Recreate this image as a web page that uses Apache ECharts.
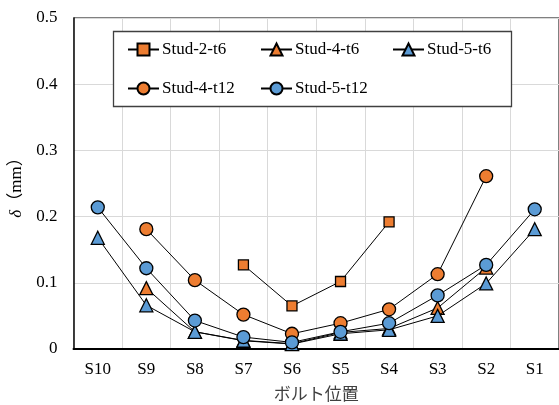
<!DOCTYPE html>
<html><head><meta charset="utf-8">
<script src="https://cdn.jsdelivr.net/npm/echarts@6/dist/echarts.min.js"></script>
<style>html,body{margin:0;padding:0;background:#fff}#c{width:559px;height:405px}</style>
</head><body><div id="c"></div>
<script>
var categories = ['S10','S9','S8','S7','S6','S5','S4','S3','S2','S1'];
var stud2t6  = [null, null, null, 0.127, 0.065, 0.102, 0.192, null, null, null];
var stud4t6  = [null, 0.092, 0.026, 0.013, 0.008, 0.025, 0.031, 0.062, 0.123, null];
var stud5t6  = [0.168, 0.066, 0.026, 0.0125, 0.0075, 0.023, 0.029, 0.050, 0.099, 0.181];
var stud4t12 = [null, 0.181, 0.104, 0.052, 0.023, 0.039, 0.060, 0.113, 0.261, null];
var stud5t12 = [0.214, 0.122, 0.043, 0.018, 0.010, 0.026, 0.039, 0.081, 0.127, 0.211];
var seriesNames = ['Stud-2-t6','Stud-4-t6','Stud-5-t6','Stud-4-t12','Stud-5-t12'];
var yTicks = [0, 0.1, 0.2, 0.3, 0.4, 0.5];

var ORANGE = '#ED7D31', BLUE = '#5B9BD5';
var FONT = "'Liberation Serif', 'Noto Sans CJK JP', serif";
var FS = 17;

function mk(name, data, color, symbol, size, z) {
  return {
    name: name, type: 'line', data: data, z: z,
    symbol: symbol, symbolSize: size, connectNulls: false,
    lineStyle: { color: '#000', width: 1 },
    itemStyle: { color: color, borderColor: '#000', borderWidth: 1.3 },
    emphasis: { disabled: true }, animation: false
  };
}
var legendCommon = {
  orient: 'vertical', top: 41, itemGap: 22, itemWidth: 31, itemHeight: 15, z: 20,
  textStyle: { fontFamily: FONT, fontSize: FS, color: '#000', padding: [0,0,0,-2] },
  selectedMode: false, padding: 0
};
var chart = echarts.init(document.getElementById('c'), null, { renderer: 'canvas' });
chart.setOption({
  animation: false,
  backgroundColor: '#fff',
  grid: { left: 73.5, right: 0, top: 18, bottom: 56, show: true, borderColor: '#000', borderWidth: 1,
          containLabel: false, outerBoundsMode: 'none' },
  legend: [
    Object.assign({ left: 127, data: ['Stud-2-t6','Stud-4-t12'] }, legendCommon),
    Object.assign({ left: 260, data: ['Stud-4-t6','Stud-5-t12'] }, legendCommon),
    Object.assign({ left: 392, data: ['Stud-5-t6'] }, legendCommon)
  ],
  graphic: [{
    type: 'rect', shape: { x: 113.5, y: 31.5, width: 398, height: 75 }, z: 3,
    style: { fill: '#fff', stroke: '#404040', lineWidth: 1.3 }, silent: true
  }],
  xAxis: {
    type: 'category', data: categories, boundaryGap: true,
    name: 'ボルト位置', nameLocation: 'middle', nameGap: 38,
    nameTextStyle: { fontFamily: FONT, fontSize: FS, color: '#404040' },
    axisLine: { lineStyle: { color: '#000', width: 2 } },
    axisTick: { show: false },
    axisLabel: { fontFamily: FONT, fontSize: FS, color: '#000', margin: 12 },
    splitLine: { show: true, lineStyle: { color: '#d9d9d9', width: 1 } }
  },
  yAxis: {
    type: 'value', min: 0, max: 0.5, interval: 0.1,
    name: '{i|δ}（mm）', nameLocation: 'middle', nameGap: 46, nameRotate: 90,
    nameTextStyle: { fontFamily: FONT, fontSize: FS, color: '#000',
      rich: { i: { fontFamily: FONT, fontSize: FS, fontStyle: 'italic', color: '#000' } } },
    axisLine: { show: true, lineStyle: { color: '#000', width: 1.5 } },
    axisTick: { show: false },
    axisLabel: { fontFamily: FONT, fontSize: FS, color: '#000', margin: 16,
      formatter: function (v) { return String(Math.round(v * 10) / 10); } },
    splitLine: { show: true, lineStyle: { color: '#d9d9d9', width: 1 } }
  },
  series: [
    mk(seriesNames[0], stud2t6, ORANGE, 'rect', 10, 3),
    mk(seriesNames[1], stud4t6, ORANGE, 'triangle', 13, 4),
    mk(seriesNames[2], stud5t6, BLUE, 'triangle', 13, 5),
    mk(seriesNames[3], stud4t12, ORANGE, 'circle', 13, 6),
    mk(seriesNames[4], stud5t12, BLUE, 'circle', 13, 7)
  ]
});
</script></body></html>
